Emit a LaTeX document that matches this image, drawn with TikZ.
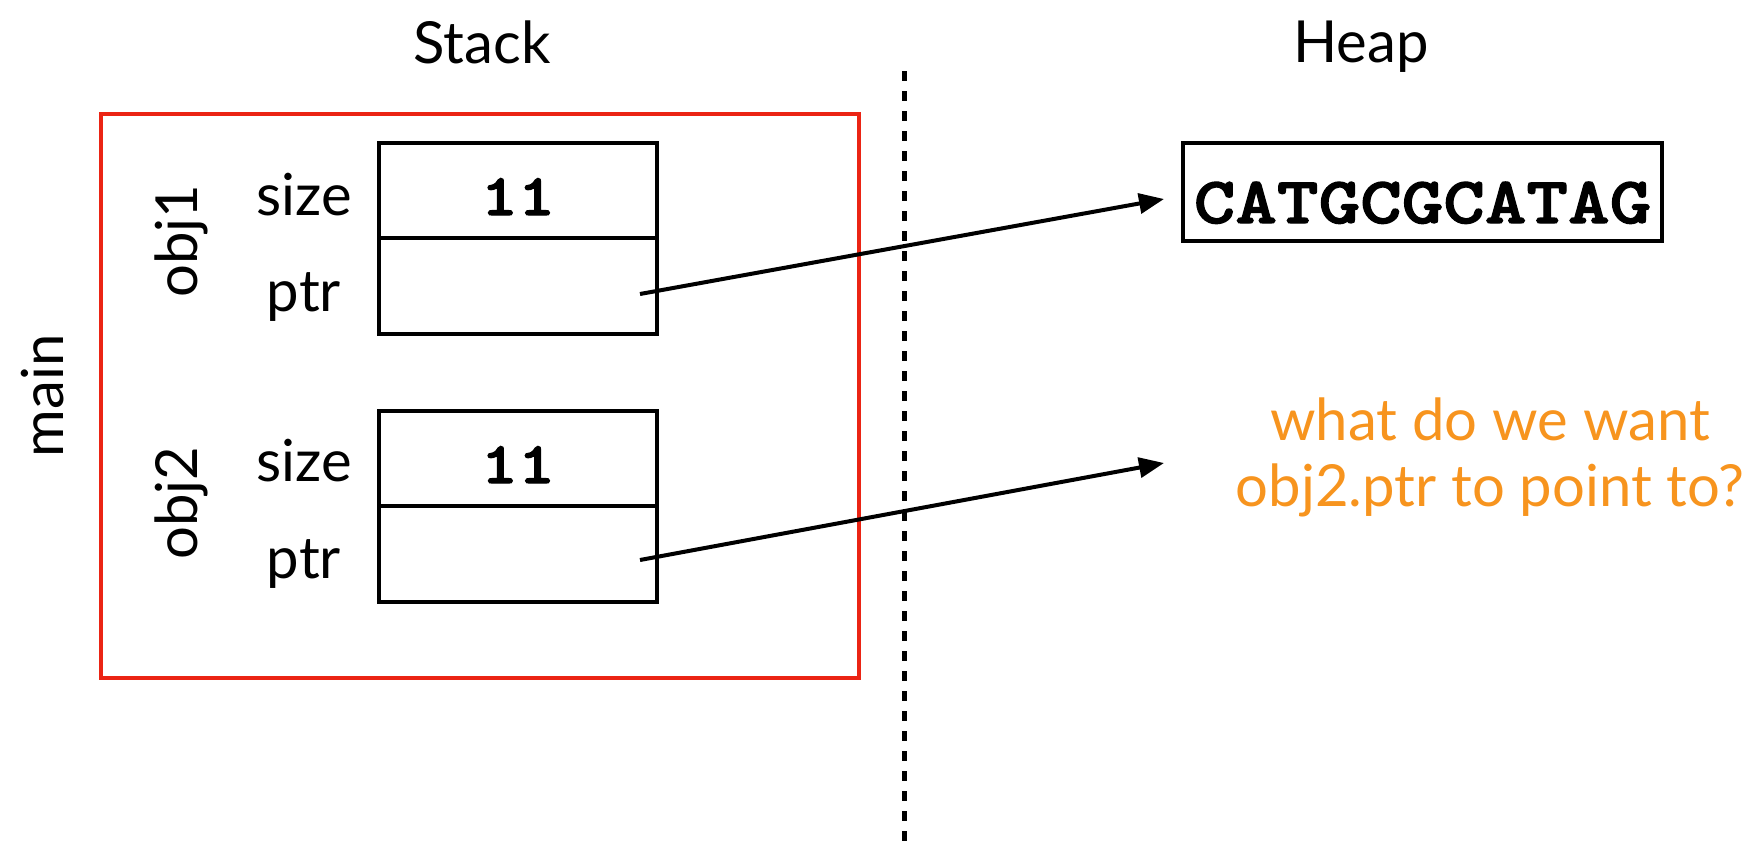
\documentclass[tikz,border=0pt]{standalone}
\usepackage{fontspec}
\setmainfont{Lato}
\newfontfamily\codefont{lmmonolt10-bold.otf}[FakeStretch=1.2, FakeBold=2]
\usetikzlibrary{arrows.meta}

\definecolor{framered}{RGB}{235,36,20}
\definecolor{noteorange}{RGB}{247,148,30}

\tikzset{
  lbl/.style={font=\fontsize{58}{66}\selectfont, inner sep=0pt},
  cell/.style={draw, line width=4pt, minimum width=278pt, inner sep=0pt},
  valtext/.style={font=\codefont\fontsize{59}{59}\selectfont, text height=49pt, text depth=0pt},
  ptrarrow/.style={line width=4pt, -{Triangle[length=25pt, width=20pt]}},
  divider/.style={line width=5pt, dash pattern=on 10pt off 10pt},
}

\begin{document}
\begin{tikzpicture}[x=1pt, y=-1pt]
\useasboundingbox (0,0) rectangle (1755,846);

% column headings
\node[lbl, anchor=base] (stack) at (482,63) {Stack};
\node[lbl, anchor=base] (heap) at (1361,62) {Heap};

% frame of main
\node[draw=framered, line width=4pt, minimum width=758pt, minimum height=564pt, inner sep=0pt] (mainframe) at (479.5,396) {};
\node[lbl, rotate=90] (mainlbl) at (43,396) {main};

% obj1
\node[cell, minimum height=95pt, valtext] (size1) at (518,190.5) {11};
\node[cell, minimum height=96pt] (ptr1) at (518,286) {};
\node[lbl, anchor=base] (size1lbl) at (304,215) {size};
\node[lbl, anchor=base] (ptr1lbl) at (304,311) {ptr};
\node[lbl, rotate=90] (obj1lbl) at (181,241) {obj1};

% obj2
\node[cell, minimum height=95pt, valtext] (size2) at (518,458.5) {11};
\node[cell, minimum height=96pt] (ptr2) at (518,554) {};
\node[lbl, anchor=base] (size2lbl) at (304,481) {size};
\node[lbl, anchor=base] (ptr2lbl) at (304,578) {ptr};
\node[lbl, rotate=90] (obj2lbl) at (181,503) {obj2};

% stack / heap boundary
\coordinate (divtop) at (904,71);
\coordinate (divbot) at (904,846);
\draw[divider] (divtop) -- (divbot);

% heap string
\node[draw, line width=4.5pt, minimum width=479pt, minimum height=98pt, inner sep=0pt,
      font=\codefont\fontsize{66}{66}\selectfont, text height=62pt, text depth=0pt]
      (heapstr) at (1422.5,192) {CATGCGCATAG};

% question
\node[font=\fontsize{58}{66}\selectfont, text=noteorange, align=center, inner sep=0pt]
      (question) at (1490,457) {what do we want\\obj2.ptr to point to?};

% pointers
\coordinate (p1) at (640,294);
\coordinate (t1) at (1164,199);
\coordinate (p2) at (640,560);
\coordinate (t2) at (1164,463);
\draw[ptrarrow] (p1) -- (t1);
\draw[ptrarrow] (p2) -- (t2);
\end{tikzpicture}
\end{document}
